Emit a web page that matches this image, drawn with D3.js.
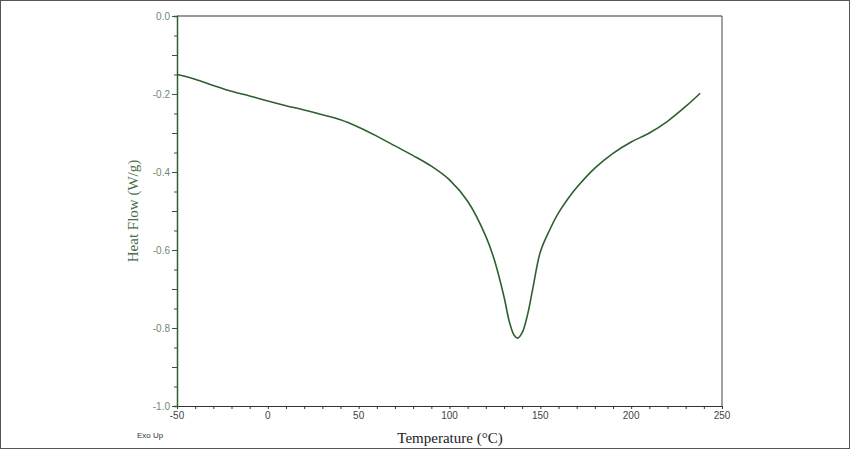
<!DOCTYPE html><html><head><script src="https://cdn.jsdelivr.net/npm/d3@7"></script>
<style>body{margin:0;background:#fff}</style></head><body><svg id="c" width="850" height="449"></svg>
<script>
const temps=[-50,-40,-30,-20,-10,0,10,20,30,40,50,60,70,80,90,100,110,120,125,130,133,135.5,137.5,140,143,146,150,155,160,165,170,180,190,200,210,220,230,238];
const heatFlow=[-0.150,-0.162,-0.178,-0.193,-0.205,-0.218,-0.230,-0.241,-0.253,-0.266,-0.285,-0.308,-0.333,-0.358,-0.385,-0.420,-0.475,-0.565,-0.630,-0.720,-0.785,-0.818,-0.826,-0.812,-0.765,-0.695,-0.605,-0.550,-0.505,-0.470,-0.440,-0.390,-0.352,-0.323,-0.300,-0.270,-0.232,-0.198];
const xTicks=[-50,0,50,100,150,200,250];
const yTicks=[0,-0.2,-0.4,-0.6,-0.8,-1.0];
const svg=d3.select("#c");
svg.append("rect").attr("x",0.5).attr("y",0.5).attr("width",849).attr("height",448).attr("fill","none").attr("stroke","#555");
const x=d3.scaleLinear().domain([-50,250]).range([177,722]);
const y=d3.scaleLinear().domain([-1,0]).range([406,16]);
const tc="#6f8a6f";
svg.append("line").attr("x1",177).attr("x2",722).attr("y1",16).attr("y2",16).attr("stroke","#333");
svg.append("line").attr("x1",722).attr("x2",722).attr("y1",16).attr("y2",406).attr("stroke","#444");
const gx=svg.append("g").attr("transform","translate(0,406)");
gx.call(d3.axisBottom(x).tickValues(d3.range(-50,251,10)).tickSize(3).tickFormat(""));
gx.call(g=>g.select(".domain").attr("stroke","#333"));
gx.selectAll(".tick line").attr("stroke","#333");
xTicks.forEach(v=>svg.append("text").attr("x",x(v)).attr("y",419).attr("text-anchor","middle").attr("font-family","Liberation Sans Narrow, Liberation Sans, sans-serif").attr("font-size",10).attr("fill","#444").text(v));
const gy=svg.append("g").attr("transform","translate(177,0)");
gy.call(d3.axisLeft(y).tickValues(d3.range(0,21).map(i=>-i*0.05)).tickSize(3).tickFormat(""));
gy.call(g=>g.select(".domain").attr("stroke","#2f5f2f").attr("stroke-width",1.5));
gy.selectAll(".tick line").attr("stroke","#2f5f2f");
gy.selectAll(".tick").filter(d=>Math.abs(Math.round(d*10)-d*10)<1e-6).select("line").attr("x2",-5);
yTicks.forEach(v=>svg.append("text").attr("x",170).attr("y",y(v)+3.5).attr("text-anchor","end").attr("font-family","Liberation Sans Narrow, Liberation Sans, sans-serif").attr("font-size",10).attr("fill",tc).text(v.toFixed(1)));
svg.append("path").datum(temps.map((t,i)=>[t,heatFlow[i]])).attr("fill","none").attr("stroke","#2f5f2f").attr("stroke-width",1.6)
 .attr("d",d3.line().x(d=>x(d[0])).y(d=>y(d[1])).curve(d3.curveCatmullRom));
svg.append("text").attr("x",450).attr("y",443).attr("text-anchor","middle").attr("font-family","Liberation Serif, serif").attr("font-size",15).attr("fill","#222").text("Temperature (°C)");
svg.append("text").attr("transform","translate(138,211) rotate(-90)").attr("text-anchor","middle").attr("font-family","Liberation Serif, serif").attr("font-size",15).attr("fill","#4a6f4a").text("Heat Flow (W/g)");
svg.append("text").attr("x",137).attr("y",438).attr("font-family","Liberation Sans, sans-serif").attr("font-size",8).attr("fill","#333").text("Exo Up");
</script></body></html>
